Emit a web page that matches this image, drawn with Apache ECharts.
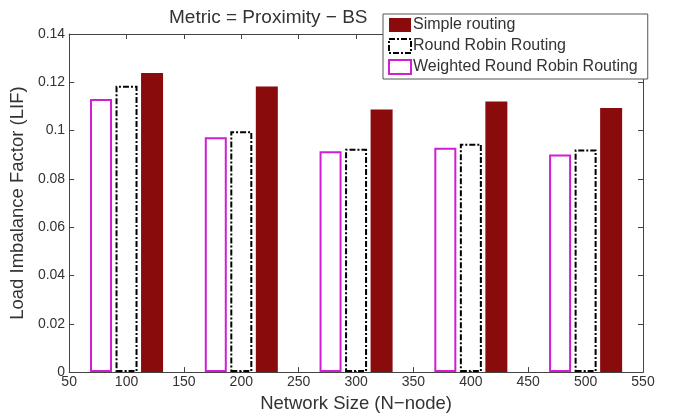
<!DOCTYPE html>
<html><head><meta charset="utf-8">
<script src="https://cdn.jsdelivr.net/npm/echarts@6/dist/echarts.min.js"></script>
<style>html,body{margin:0;padding:0;background:#fff}#c{width:676px;height:418px}</style>
</head><body><div id="c"></div>
<script>
const networkSizes = [100, 200, 300, 400, 500];
const simpleRouting = [0.1238, 0.1183, 0.1087, 0.1121, 0.1094];
const roundRobin = [0.1186, 0.0997, 0.0925, 0.0946, 0.0922];
const weightedRoundRobin = [0.1131, 0.0972, 0.0915, 0.0929, 0.0901];
const seriesNames = ['Simple routing', 'Round Robin Routing', 'Weighted Round Robin Routing'];
const titleText = 'Metric = Proximity \u2212 BS';
const xName = 'Network Size (N\u2212node)';
const yName = 'Load Imbalance Factor (LIF)';

const font = 'Liberation Sans, Arial, sans-serif';
const pairs = arr => networkSizes.map((x, i) => [x, arr[i]]);
const axisCommon = {
  axisLine: { show: true, onZero: false, lineStyle: { color: '#444', width: 1 } },
  axisTick: { show: true, inside: true, length: 5, lineStyle: { color: '#444' } },
  splitLine: { show: false }
};
const dashDot = [6, 2, 2, 2];
const chart = echarts.init(document.getElementById('c'), null, { renderer: 'canvas' });
chart.setOption({
  animation: false,
  backgroundColor: '#fff',
  textStyle: { fontFamily: font },
  title: { text: titleText, left: 164, top: 3, textStyle: { fontFamily: font, fontSize: 19, fontWeight: 'normal', color: '#333' } },
  grid: { left: 66, right: 33, top: 34, bottom: 44 },
  legend: {
    orient: 'vertical', left: 383, top: 14, itemGap: 5, padding: [3, 10, 4, 5],
    itemWidth: 22, itemHeight: 14, backgroundColor: '#fff', borderColor: '#555', borderWidth: 1,
    icon: 'rect',
    data: [
      { name: seriesNames[0] },
      { name: seriesNames[1], itemStyle: { color: '#fff', borderColor: '#000', borderWidth: 2, borderType: dashDot } },
      { name: seriesNames[2] }
    ],
    textStyle: { fontFamily: font, fontSize: 16, color: '#333', padding: [0, 0, 0, -3] }
  },
  xAxis: [
    Object.assign({ type: 'value', min: 50, max: 550, interval: 50, position: 'bottom',
      name: xName, nameLocation: 'middle', nameGap: 20,
      nameTextStyle: { fontFamily: font, fontSize: 18.5, color: '#333' },
      axisLabel: { fontFamily: font, fontSize: 14, color: '#333', margin: 3 } }, axisCommon),
    Object.assign({ type: 'value', min: 50, max: 550, interval: 50, position: 'top',
      axisLabel: { show: false } }, axisCommon)
  ],
  yAxis: [
    Object.assign({ type: 'value', min: 0, max: 0.14, interval: 0.02, position: 'left',
      name: yName, nameLocation: 'middle', nameGap: 40, nameRotate: 90,
      nameTextStyle: { fontFamily: font, fontSize: 18.5, color: '#333' },
      axisLabel: { fontFamily: font, fontSize: 14, color: '#333', margin: 4 } }, axisCommon),
    Object.assign({ type: 'value', min: 0, max: 0.14, interval: 0.02, position: 'right',
      axisLabel: { show: false } }, axisCommon)
  ],
  series: [
    { name: seriesNames[2], type: 'bar', data: pairs(weightedRoundRobin), barWidth: 22, barGap: '16%',
      itemStyle: { color: '#fff', borderColor: '#d21ed2', borderWidth: 2 } },
    { name: seriesNames[1], type: 'bar', data: pairs(roundRobin), barWidth: 22, barGap: '16%',
      itemStyle: { color: '#fff', borderColor: '#000', borderWidth: 2, borderType: dashDot } },
    { name: seriesNames[0], type: 'bar', data: pairs(simpleRouting), barWidth: 22, barGap: '16%',
      itemStyle: { color: '#8a0b0b' } }
  ]
});
</script></body></html>
